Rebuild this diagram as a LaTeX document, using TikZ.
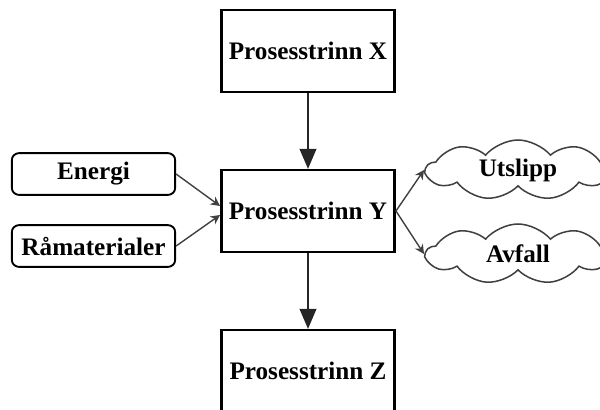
\documentclass[tikz,border=0pt]{standalone}
\usepackage{fontspec}
\setmainfont{Liberation Serif}
\usepackage{tikz}
\usetikzlibrary{calc, positioning, shapes, shapes.symbols, arrows.meta}
\def\boxfont{\fontsize{21.5}{25}\selectfont\bfseries}
\tikzstyle{step box}=[draw, line width=2.2pt, fill=white, minimum width=5.2cm, minimum height=2.45cm, inner sep=0pt, font=\boxfont]
\tikzstyle{input box}=[draw, line width=1.6pt, rounded corners=6pt, minimum width=4.9cm, minimum height=1.25cm, inner sep=0pt, font=\boxfont]
\tikzstyle{output cloud}=[cloud, cloud puffs=9, cloud puff arc=100, aspect=3, draw=black!75, line width=1.3pt, minimum width=5.5cm, minimum height=1.8cm, inner sep=0pt, font=\boxfont]
\tikzstyle{main arrow}=[-{Triangle[width=0.5cm,length=0.6cm]}, line width=1.5pt, draw=black!85]
\tikzstyle{side arrow}=[-{Stealth[width=0.28cm,length=0.28cm]}, line width=1.2pt, draw=black!75]

\begin{document}
\begin{tikzpicture}[x=0.03cm, y=0.03cm]
		\useasboundingbox (0,0) rectangle (600,409);
		\node[step box] (X) at (308,358) {Prosesstrinn X};
		\node[step box] (Y) at (308,198) {Prosesstrinn Y};
		\node[step box] (Z) at (308,38) {Prosesstrinn Z};
		\node[input box] (E) at (93.5,235) {Energi};
		\node[input box] (R) at (93.5,163) {Råmaterialer};
		\node[output cloud] (U) at (518,239) {Utslipp};
		\node[output cloud] (A) at (518,155) {Avfall};
		\path
		(X) edge[main arrow] (Y)
		(Y) edge[main arrow] (Z)
		(E.east) edge[side arrow] ($(Y.west)+(0,5)$)
		(R.east) edge[side arrow] ($(Y.west)+(0,-4)$)
		(Y.east) edge[side arrow] (U.west)
		(Y.east) edge[side arrow] (A.west);
	\end{tikzpicture}
\end{document}
